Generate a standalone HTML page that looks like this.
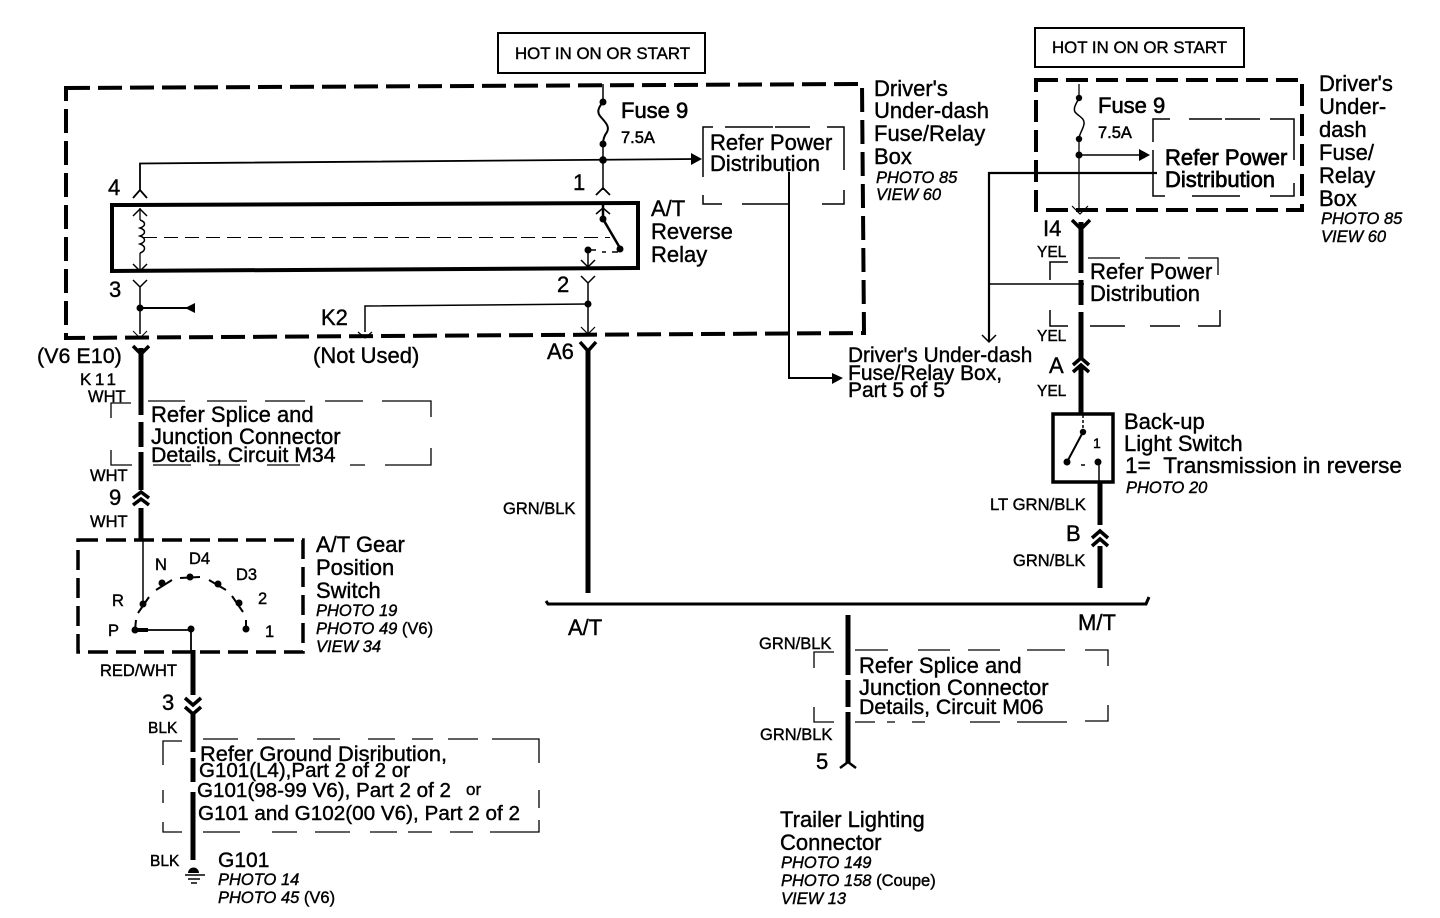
<!DOCTYPE html>
<html><head><meta charset="utf-8"><style>
html,body{margin:0;padding:0;background:#fff;width:1440px;height:918px;overflow:hidden}
svg{display:block}
text{font-family:"Liberation Sans",sans-serif;fill:#000}
.l{font-size:22px}.m{font-size:16.5px}.s{font-size:16.5px}.t{font-size:15.5px}.i{font-size:16.5px;font-style:italic}
.b{stroke-width:.4px;stroke:#000}
</style></head><body>
<svg width="1440" height="918" viewBox="0 0 1440 918" xmlns="http://www.w3.org/2000/svg">
<g fill="none" stroke="#000">
<!-- top boxes -->
<rect x="498" y="33" width="207" height="40" stroke-width="2"/>
<rect x="1035" y="28" width="209" height="39" stroke-width="2"/>
<!-- large dashed boxes -->
<path d="M66 88L862 84L864 333L66 338Z" stroke-width="4" stroke-dasharray="24 8"/>
<path d="M1036 80H1302V210H1036Z" stroke-width="4" stroke-dasharray="22 8"/>
<path d="M78 540H303V652H78Z" stroke-width="3.5" stroke-dasharray="20 8"/>
<!-- relay -->
<path d="M112 205L638 203V268L112 271Z" stroke-width="4"/>
<path d="M143 237.5H610" stroke-width="1" stroke-dasharray="14 7"/>
<path d="M140 208V220M140 253V270" stroke-width="1.3"/>
<path d="M140 220c6 2 6 6 0 8c6 2 6 6 0 8c6 2 6 6 0 8c6 2 6 7 0 9" stroke-width="1.5"/>
<path d="M133 216l7-7 7 7M133 264l7 7 7-7" stroke-width="1.5"/>
<!-- fuse 9 left -->
<path d="M603 84V102M603 144V190" stroke-width="1.5"/>
<path d="M603 102C598 108 597 112 600 116C605 122 610 126 607 132C604 136 603 140 603 144" stroke-width="2"/>
<path d="M140 190V163.5L696 159" stroke-width="1.8"/>
<path d="M133 198l7-8 7 8M596 195l7-7 7 7" stroke-width="1.8"/>
<path d="M603 205V219L620 248" stroke-width="2.5"/>
<path d="M596 214l7-6 7 6" stroke-width="1.5"/>
<path d="M588 250H596M602 252H606M612 252H618" stroke-width="1.5"/>
<path d="M588 250V268M581 260l7 7 7-7" stroke-width="1.5"/>
<!-- below relay -->
<path d="M133 280l7 7 7-7M140 287V334" stroke-width="1.5"/>
<path d="M140 308H188" stroke-width="2"/>
<path d="M133 331l7 7 7-7" stroke-width="1"/>
<path d="M581 276l7 7 7-7M588 283V333" stroke-width="1.5"/>
<path d="M588 304L365 306V332" stroke-width="1.5"/>
<path d="M358 332l7 6 7-6M581 327l7 7 7-7" stroke-width="1.2"/>
<!-- refer power left -->
<path d="M703 177V127H713M725 127H773M775 127H810M827 127H844V170M844 190V204H822M722 204H703V195M742 204H790" stroke-width="1.5"/>
<path d="M789 172V378H835" stroke-width="2"/>
<!-- right upper -->
<path d="M1079 84V98M1079 139V208" stroke-width="1.3"/>
<path d="M1079 98C1076 104 1073 108 1075 112C1078 116 1085 118 1084 124C1083 130 1079 134 1079 139" stroke-width="1.5"/>
<path d="M1079 155H1145" stroke-width="1.5"/>
<path d="M1153 142V119H1170M1189 119H1222M1225 119H1260M1270 119H1294V160M1294 183V196H1270M1240 196H1192M1165 196H1153V150" stroke-width="1.5"/>
<path d="M1157 173H989V342" stroke-width="2.2"/>
<path d="M989 284H1084" stroke-width="1.6"/>
<path d="M982 335l7 7 7-7" stroke-width="1.5"/>
<path d="M1072 206l8 8 8-8" stroke-width="1.2"/>
<path d="M1050 280V262H1068" stroke-width="1.5"/>
<path d="M1050 310V326H1068" stroke-width="1.5"/>
<path d="M1088 258H1120M1145 258H1180M1188 258H1218V275" stroke-width="1.3"/>
<path d="M1090 326H1125M1150 326H1180M1198 326H1220V310" stroke-width="1.5"/>
<!-- heavy wires -->
<g stroke-width="5">
<path d="M141 348V415M141 422V447M141 452V490"/>
<path d="M141 508V540"/>
<path d="M588 350V593"/>
<path d="M1081 222V273M1081 280V305M1081 312V358"/>
<path d="M1081 366V414"/>
<path d="M1100 483V525M1100 546V588"/>
<path d="M193 650V695M193 712V752M193 758V782M193 792V860"/>
<path d="M848 615V675M848 680V707M848 712V763"/>
</g>
<path d="M546 601L548 604H1146L1149 597" stroke-width="3"/>
<!-- connector tips -->
<g stroke-width="3.5">
<path d="M133 346l8 8 8-8M580 342l8 9 8-9M1072 220l9 9 9-9"/>
<path d="M133 498l8-6 8 6M133 505l8-6 8 6"/>
<path d="M1073 365l8-7 8 7M1073 372l8-7 8 7"/>
<path d="M1092 538l8-7 8 7M1092 546l8-7 8 7"/>
<path d="M185 698l8 7 8-7M185 707l8 7 8-7"/>
</g>
<path d="M840 768l8-6 8 6" stroke-width="2.5"/>
<!-- refer splice left -->
<path d="M111 418V403H131M148 401H185M207 401H247M265 401H305M325 401H363M382 401H431V417M431 448V465H385M365 465H350M300 465H267M240 465H209M191 465H153M132 465H111V450" stroke-width="1.3"/>
<!-- refer splice center -->
<path d="M814 668V652H834M855 650H888M918 650H950M968 650H1000M1027 650H1065M1085 650H1108V666M1108 705V721H1085M1067 722H1017M1000 722H970M925 722H912M895 722H887M875 722H855M834 722H814V707" stroke-width="1.3"/>
<!-- ground refer -->
<path d="M163 765V741H182M203 739H238M257 739H295M313 739H340M368 739H395M412 739H433M448 739H478M492 739H539V763M539 790V808M539 820V832H490M473 832H450M432 832H408M397 832H370M350 832H315M297 832H272M240 832H203M182 832H163V822M163 790V803" stroke-width="1.3"/>
<!-- gear switch -->
<path d="M143 540V603" stroke-width="1.5"/>
<path d="M138 613L149 597M156 590L172 580M180 578L200 577M209 580L226 590M232 596L243 612M246 620V630M136 620L135 630" stroke-width="2"/>
<path d="M135 630H148" stroke-width="4"/>
<path d="M148 630H191V652" stroke-width="1.8"/>
<!-- back up switch -->
<path d="M1053 414H1113V482H1053Z" stroke-width="3.5"/>
<path d="M1083 415V432" stroke-width="1.5" stroke-dasharray="3 2"/>
<path d="M1083 432L1067 462" stroke-width="2"/>
<path d="M1081 465H1085" stroke-width="1.5"/>
<path d="M1099 462V482" stroke-width="1.5"/>
<!-- ground symbol -->
<path d="M185 875H205M188 879H200M191 883H197" stroke-width="1.6"/>
</g>
<!-- dots & arrows -->
<g fill="#000">
<circle cx="603" cy="102" r="3.5"/><circle cx="603" cy="144" r="3.5"/><circle cx="603" cy="160" r="3.8"/>
<circle cx="603" cy="219" r="3.5"/><circle cx="620" cy="249" r="3.5"/><circle cx="588" cy="250" r="3.5"/><circle cx="588" cy="304" r="3.5"/>
<circle cx="140" cy="308" r="3.5"/>
<polygon points="185,308 195,303 195,313"/>
<polygon points="702,159 691,153 691,165"/>
<polygon points="843,378 832,373 832,384"/>
<polygon points="1150,155 1139,149 1139,161"/>
<circle cx="1079" cy="98" r="3.2"/><circle cx="1079" cy="139" r="3.2"/><circle cx="1079" cy="155" r="3.5"/>
<circle cx="143" cy="604" r="3.5"/><circle cx="162" cy="583" r="3.5"/><circle cx="190" cy="577" r="3.5"/><circle cx="218" cy="584" r="3.5"/><circle cx="239" cy="603" r="3.5"/><circle cx="246" cy="629" r="3.5"/><circle cx="135" cy="630" r="3.5"/><circle cx="191" cy="629" r="3.5"/>
<circle cx="1083" cy="432" r="3.2"/><circle cx="1067" cy="462" r="3.5"/><circle cx="1098" cy="462" r="3.5"/>
<path d="M188 873a5.5 5.5 0 0 1 11 0Z"/>
</g>
<!-- text -->
<g class="b">
<text x="515" y="59" style="font-size:17px" textLength="175" lengthAdjust="spacingAndGlyphs">HOT IN ON OR START</text>
<text x="1052" y="53" style="font-size:17px" textLength="175" lengthAdjust="spacingAndGlyphs">HOT IN ON OR START</text>
<text x="874" y="96" class="l">Driver's</text><text x="874" y="118" class="l">Under-dash</text><text x="874" y="141" class="l">Fuse/Relay</text><text x="874" y="164" class="l">Box</text>
<text x="1319" y="91" class="l">Driver's</text><text x="1319" y="114" class="l">Under-</text><text x="1319" y="137" class="l">dash</text><text x="1319" y="160" class="l">Fuse/</text><text x="1319" y="183" class="l">Relay</text><text x="1319" y="206" class="l">Box</text>
<text x="621" y="118" class="l" style="stroke-width:.6">Fuse 9</text><text x="621" y="143" class="m" style="stroke-width:.5">7.5A</text>
<text x="710" y="150" class="l">Refer Power</text><text x="710" y="171" class="l">Distribution</text>
<text x="1098" y="113" class="l" style="stroke-width:.6">Fuse 9</text><text x="1098" y="138" class="m" style="stroke-width:.5">7.5A</text>
<text x="1165" y="165" class="l" style="stroke-width:.7">Refer Power</text><text x="1165" y="187" class="l" style="stroke-width:.7">Distribution</text>
<text x="108" y="195" class="l">4</text><text x="573" y="190" class="l">1</text>
<text x="651" y="216" class="l">A/T</text><text x="651" y="239" class="l">Reverse</text><text x="651" y="262" class="l">Relay</text>
<text x="109" y="297" class="l">3</text><text x="557" y="292" class="l">2</text>
<text x="321" y="325" class="l">K2</text><text x="313" y="363" class="l">(Not Used)</text>
<text x="37" y="363" style="font-size:21.5px">(V6 E10)</text>
<text x="80" y="385" style="font-size:17px" textLength="36">K11</text>
<text x="547" y="359" class="l">A6</text>
<text x="88" y="402" class="s">WHT</text><text x="90" y="481" class="s">WHT</text><text x="90" y="527" class="s">WHT</text>
<text x="109" y="505" class="l">9</text>
<text x="151" y="422" class="l">Refer Splice and</text><text x="151" y="444" class="l">Junction Connector</text><text x="151" y="462" style="font-size:21.3px">Details, Circuit M34</text>
<text x="503" y="514" class="s">GRN/BLK</text>
<text x="316" y="552" class="l">A/T Gear</text><text x="316" y="575" class="l">Position</text><text x="316" y="598" class="l">Switch</text>
<text x="316" y="616" class="i">PHOTO 19</text><text x="316" y="634" class="i">PHOTO 49 <tspan font-style="normal">(V6)</tspan></text><text x="316" y="652" class="i">VIEW 34</text>
<text x="876" y="183" class="i">PHOTO 85</text><text x="876" y="200" class="i">VIEW 60</text>
<text x="1321" y="224" class="i">PHOTO 85</text><text x="1321" y="242" class="i">VIEW 60</text>
<text x="155" y="570" class="s">N</text><text x="189" y="564" class="s">D4</text><text x="236" y="580" class="s">D3</text><text x="112" y="606" class="s">R</text><text x="258" y="604" class="s">2</text><text x="108" y="636" class="s">P</text><text x="265" y="637" class="s">1</text>
<text x="100" y="676" class="s">RED/WHT</text>
<text x="162" y="710" class="l">3</text>
<text x="148" y="733" class="t">BLK</text>
<text x="200" y="761" style="font-size:21px" textLength="247" lengthAdjust="spacingAndGlyphs">Refer Ground Disribution,</text>
<text x="199" y="777" style="font-size:20px" textLength="211" lengthAdjust="spacingAndGlyphs">G101(L4),Part 2 of 2 or</text>
<text x="197" y="797" style="font-size:20px" textLength="254" lengthAdjust="spacingAndGlyphs">G101(98-99 V6), Part 2 of 2</text>
<text x="466" y="795" style="font-size:17px">or</text>
<text x="198" y="820" style="font-size:20.5px" textLength="322" lengthAdjust="spacingAndGlyphs">G101 and G102(00 V6), Part 2 of 2</text>
<text x="150" y="866" class="t">BLK</text>
<text x="218" y="867" style="font-size:21px">G101</text>
<text x="218" y="885" class="i">PHOTO 14</text><text x="218" y="903" class="i">PHOTO 45 <tspan font-style="normal">(V6)</tspan></text>
<text x="848" y="362" style="font-size:20.8px">Driver's Under-dash</text><text x="848" y="380" style="font-size:21px">Fuse/Relay Box,</text><text x="848" y="397" style="font-size:21px">Part 5 of 5</text>
<text x="1043" y="236" class="l">I4</text>
<text x="1037" y="257" class="t">YEL</text><text x="1037" y="341" class="t">YEL</text><text x="1037" y="396" class="t">YEL</text>
<text x="1090" y="279" class="l">Refer Power</text><text x="1090" y="301" class="l">Distribution</text>
<text x="1049" y="373" class="l">A</text><text x="1066" y="541" class="l">B</text>
<text x="1124" y="429" class="l">Back-up</text><text x="1124" y="451" class="l">Light Switch</text><text x="1125" y="473" class="l" textLength="277" lengthAdjust="spacingAndGlyphs">1=&#160;&#160;Transmission in reverse</text><text x="1126" y="493" class="i">PHOTO 20</text>
<text x="1093" y="448" style="font-size:14px">1</text>
<text x="990" y="510" style="font-size:16.7px">LT GRN/BLK</text><text x="1013" y="566" class="s">GRN/BLK</text>
<text x="568" y="635" class="l">A/T</text><text x="1078" y="630" class="l">M/T</text>
<text x="759" y="649" class="s">GRN/BLK</text><text x="760" y="740" class="s">GRN/BLK</text>
<text x="859" y="673" class="l">Refer Splice and</text><text x="859" y="695" class="l">Junction Connector</text><text x="859" y="714" style="font-size:21.3px">Details, Circuit M06</text>
<text x="816" y="769" class="l">5</text>
<text x="780" y="827" class="l">Trailer Lighting</text><text x="780" y="850" class="l">Connector</text>
<text x="781" y="868" class="i">PHOTO 149</text><text x="781" y="886" class="i">PHOTO 158 <tspan font-style="normal">(Coupe)</tspan></text><text x="781" y="904" class="i">VIEW 13</text>
</g>
</svg>
</body></html>
